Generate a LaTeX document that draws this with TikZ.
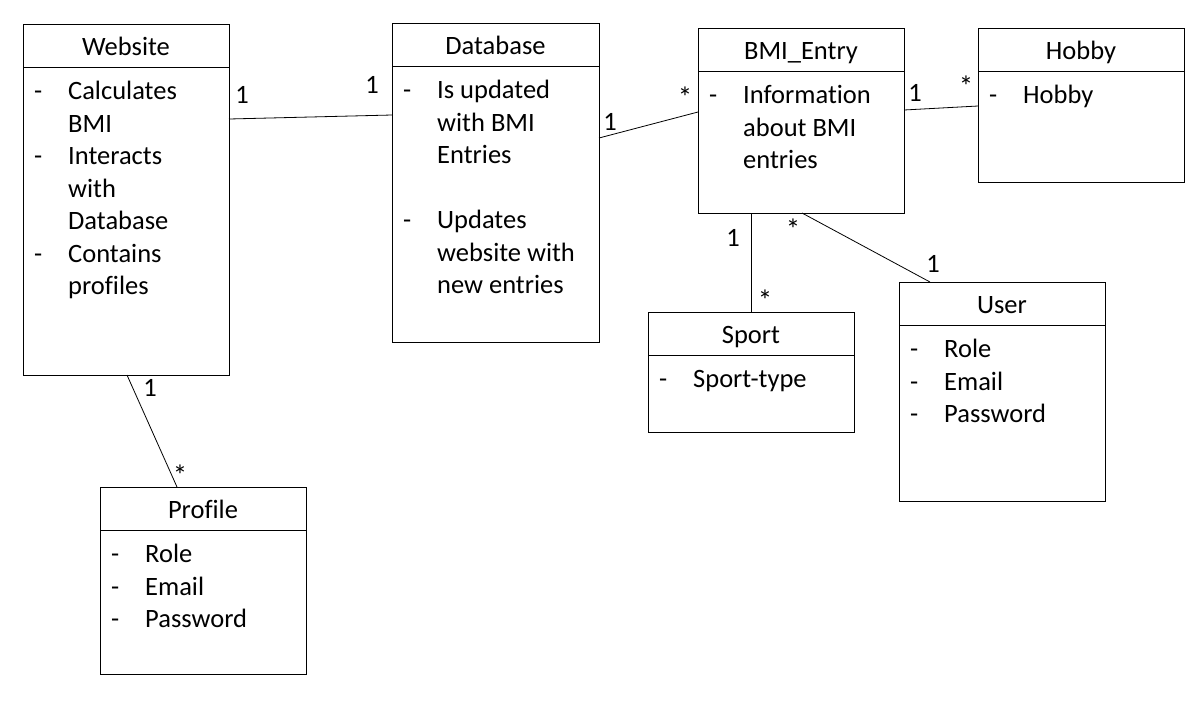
\documentclass[tikz,border=0pt]{standalone}
\usepackage{fontspec}
\setmainfont[Ligatures={NoCommon}]{Carlito}
\usepackage{array}
\tikzset{
  x=1pt, y=-1pt,
  classbox/.style={draw=black, line width=0.9pt, fill=white, inner sep=0pt, outer sep=0pt},
  classline/.style={draw=black, line width=0.9pt},
  titletext/.style={inner sep=0pt, font=\fontsize{26.5}{32.5}\selectfont},
  bodytext/.style={inner sep=0pt, font=\fontsize{26.5}{32.5}\selectfont, align=left},
  assoc/.style={draw=black, line width=0.8pt},
  mult/.style={inner sep=0pt, font=\fontsize{26.5}{32.5}\selectfont},
  multstar/.style={inner sep=0pt, font=\fontsize{29}{32.5}\selectfont},
}
\newcommand\umlclass[7]{%
  \node[classbox, minimum width=#4pt, minimum height=#5pt, anchor=north west] (#1) at (#2,#3) {};
  \draw[classline] ([yshift=-43.5pt]#1.north west) -- ([yshift=-43.5pt]#1.north east);
  \node[titletext, anchor=base] (#1-title) at ([yshift=-31pt]#1.north) {#6};
  \node[bodytext, anchor=base west] (#1-body) at ([xshift=11pt,yshift=-75.5pt]#1.north west)
    {\begin{tabular}[t]{@{}p{34pt}@{}l@{}}#7\end{tabular}};
}
\begin{document}
\begin{tikzpicture}
\useasboundingbox[fill=white] (0,0) rectangle (1201,705);

\umlclass{web}{23}{24}{206}{351}{Website}{-&Calculates\\ &BMI\\ -&Interacts\\ &with\\ &Database\\ -&Contains\\ &profiles}
\umlclass{db}{392}{23}{207}{319}{Database}{-&Is updated\\ &with BMI\\ &Entries\\ &\\ -&Updates\\ &website with\\ &new entries}
\umlclass{bmi}{698}{28}{206}{185}{BMI\_Entry}{-&Information\\ &about BMI\\ &entries}
\umlclass{hobby}{978}{28}{206}{154}{Hobby}{-&Hobby}
\umlclass{sport}{648}{312}{206}{120}{Sport}{-&Sport-type}
\umlclass{user}{899}{282}{206}{219}{User}{-&Role\\ -&Email\\ -&Password}
\umlclass{prof}{100}{487}{206}{187}{Profile}{-&Role\\ -&Email\\ -&Password}

% associations
\draw[assoc] ([yshift=-95pt]web.north east) -- ([yshift=-92pt]db.north west);
\draw[assoc] ([yshift=-115pt]db.north east) -- ([yshift=-84pt]bmi.north west);
\draw[assoc] ([yshift=-82pt]bmi.north east) -- ([yshift=-78pt]hobby.north west);
\draw[assoc] ([xshift=53pt]bmi.south west) -- (sport.north);
\draw[assoc] ([xshift=104pt]bmi.south west) -- ([xshift=31pt]user.north west);
\draw[assoc] ([xshift=104pt]web.south west) -- ([xshift=77pt]prof.north west);

% multiplicities
\node[mult] (m1) at (242,95) {1};
\node[mult] (m2) at (372,85) {1};
\node[mult] (m3) at (610,122) {1};
\node[multstar] (m4) at (685,97) {*};
\node[mult] (m5) at (915,93) {1};
\node[multstar] (m6) at (966,86) {*};
\node[mult] (m7) at (733,238) {1};
\node[multstar] (m8) at (765,300) {*};
\node[multstar] (m9) at (793,229) {*};
\node[mult] (m10) at (933,264) {1};
\node[mult] (m11) at (150,388) {1};
\node[multstar] (m12) at (180,475) {*};
\end{tikzpicture}
\end{document}
